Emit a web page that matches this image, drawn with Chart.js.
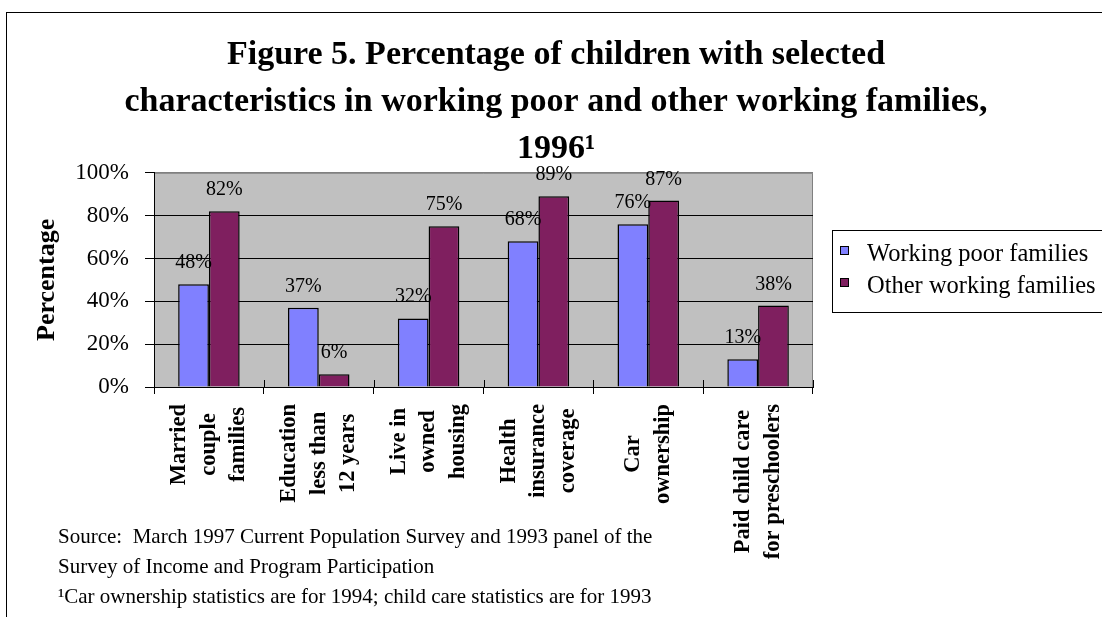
<!DOCTYPE html>
<html>
<head>
<meta charset="utf-8">
<title>Figure 5</title>
<script src="https://cdn.jsdelivr.net/npm/chart.js@4/dist/chart.umd.min.js"></script>
<style>
  html, body { margin: 0; padding: 0; background: #fff; }
  canvas { display: block; }
</style>
</head>
<body>
<canvas id="fig5" width="1102" height="617"></canvas>
<script>
// Chart data
const categories = [
    ['Married', 'couple', 'families'],
    ['Education', 'less than', '12 years'],
    ['Live in', 'owned', 'housing'],
    ['Health', 'insurance', 'coverage'],
    ['Car', 'ownership'],
    ['Paid child care', 'for preschoolers']
];
const seriesNames = ['Working poor families', 'Other working families'];
const workingPoor = [48, 37, 32, 68, 76, 13];
const otherWorking = [82, 6, 75, 89, 87, 38];
const yTicks = [0, 20, 40, 60, 80, 100];

const titleLines = [
    'Figure 5. Percentage of children with selected',
    'characteristics in working poor and other working families,',
    '1996\u00B9'
];
const sourceLines = [
    'Source:  March 1997 Current Population Survey and 1993 panel of the',
    'Survey of Income and Program Participation',
    '\u00B9Car ownership statistics are for 1994; child care statistics are for 1993'
];

const serif = '"Liberation Serif", "Times New Roman", Times, serif';
const blue = '#8080ff';
const plum = '#7f1f5f';

// Grey plot area plus the outer frame of the figure
const plotBackground = {
    id: 'plotBackground',
    beforeDraw(chart) {
        const { ctx, chartArea: a } = chart;
        ctx.save();
        ctx.fillStyle = '#c0c0c0';
        ctx.fillRect(a.left, a.top, a.width, a.height);
        ctx.strokeStyle = '#808080';
        ctx.lineWidth = 1;
        ctx.beginPath();
        ctx.moveTo(a.left, a.top + 0.5);
        ctx.lineTo(a.right - 0.5, a.top + 0.5);
        ctx.lineTo(a.right - 0.5, a.bottom);
        ctx.stroke();
        ctx.strokeStyle = '#000';
        ctx.strokeRect(6.5, 12.5, chart.width + 20, chart.height + 20);
        ctx.restore();
    }
};

// Percent labels above each bar
const barValueLabels = {
    id: 'barValueLabels',
    afterDatasetsDraw(chart) {
        const { ctx } = chart;
        ctx.save();
        ctx.font = '20px ' + serif;
        ctx.fillStyle = '#000';
        ctx.textAlign = 'center';
        ctx.textBaseline = 'alphabetic';
        chart.data.datasets.forEach((ds, i) => {
            chart.getDatasetMeta(i).data.forEach((bar, j) => {
                ctx.fillText(ds.data[j] + '%', bar.x, bar.y - 16);
            });
        });
        ctx.restore();
    }
};

// Rotated, multi-line category labels (centred like the original)
const categoryLabels = {
    id: 'categoryLabels',
    afterDraw(chart) {
        const { ctx, chartArea: a } = chart;
        const xs = chart.scales.x;
        ctx.save();
        // cross tick marks reaching into the plot
        const step = xs.width / categories.length;
        ctx.strokeStyle = '#000';
        ctx.lineWidth = 1;
        ctx.beginPath();
        for (let i = 0; i <= categories.length; i++) {
            const x = Math.round(xs.left + i * step) + 0.5;
            ctx.moveTo(x, a.bottom - 7);
            ctx.lineTo(x, a.bottom);
        }
        ctx.stroke();

        ctx.font = 'bold 22.5px ' + serif;
        ctx.fillStyle = '#000';
        ctx.textAlign = 'center';
        ctx.textBaseline = 'middle';
        categories.forEach((lines, i) => {
            const cx = xs.getPixelForValue(i);
            const longest = Math.max(...lines.map(t => ctx.measureText(t).width));
            const cy = a.bottom + 17 + longest / 2;
            lines.forEach((t, k) => {
                ctx.save();
                ctx.translate(cx + (k - (lines.length - 1) / 2) * 29.5, cy);
                ctx.rotate(-Math.PI / 2);
                ctx.fillText(t, 0, 0);
                ctx.restore();
            });
        });
        ctx.restore();
    }
};

// Boxed legend to the right of the plot, and the source notes
const boxedLegend = {
    id: 'boxedLegend',
    afterDraw(chart) {
        const { ctx, chartArea: a } = chart;
        const left = a.right + 19;
        const top = 230;
        ctx.save();
        ctx.strokeStyle = '#000';
        ctx.lineWidth = 1;
        ctx.strokeRect(left + 0.5, top + 0.5, 300, 82);
        ctx.font = '24.5px ' + serif;
        ctx.textBaseline = 'alphabetic';
        ctx.textAlign = 'left';
        chart.data.datasets.forEach((ds, i) => {
            const base = top + 31 + i * 32;
            ctx.fillStyle = ds.backgroundColor;
            ctx.fillRect(left + 8, base - 15, 9, 9);
            ctx.strokeRect(left + 8.5, base - 14.5, 8, 8);
            ctx.fillStyle = '#000';
            ctx.fillText(ds.label, left + 35, base);
        });

        ctx.font = '21px ' + serif;
        sourceLines.forEach((t, i) => {
            ctx.fillText(t, 58, chart.height - 74 + i * 30);
        });
        ctx.restore();
    }
};

new Chart(document.getElementById('fig5'), {
    type: 'bar',
    data: {
        labels: categories.map(l => l.join(' ')),
        datasets: [{
            label: seriesNames[0],
            data: workingPoor,
            backgroundColor: blue,
            borderColor: '#000',
            borderWidth: 1.5
        }, {
            label: seriesNames[1],
            data: otherWorking,
            backgroundColor: plum,
            borderColor: '#000',
            borderWidth: 1.5
        }]
    },
    options: {
        responsive: false,
        animation: false,
        devicePixelRatio: 1,
        layout: { padding: { top: 8, left: 10, right: 0, bottom: 0 } },
        datasets: {
            bar: { categoryPercentage: 0.56, barPercentage: 1 }
        },
        plugins: {
            legend: { display: false },
            tooltip: { enabled: false },
            title: {
                display: true,
                text: titleLines,
                color: '#000',
                font: { family: serif, size: 34, weight: 'bold', lineHeight: 1.38 },
                padding: { top: 24, bottom: 0 }
            }
        },
        scales: {
            x: {
                grid: {
                    offset: true,
                    drawOnChartArea: false,
                    tickLength: 7,
                    color: '#000'
                },
                border: { color: '#000', width: 1 },
                ticks: { display: false },
                afterFit: s => { s.height = 230; }
            },
            y: {
                min: 0,
                max: 100,
                afterBuildTicks: s => { s.ticks = yTicks.map(v => ({ value: v })); },
                grid: {
                    color: c => (c.tick && c.tick.value === 100 ? '#808080' : '#000'),
                    tickColor: '#000',
                    tickLength: 9
                },
                border: { color: '#000', width: 1 },
                ticks: {
                    padding: 16,
                    color: '#000',
                    font: { family: serif, size: 23 },
                    callback: v => v + '%'
                },
                title: {
                    display: true,
                    text: 'Percentage',
                    color: '#000',
                    font: { family: serif, size: 26, weight: 'bold' },
                    padding: { top: 22, bottom: 0 }
                },
                afterFit: s => { s.width = 144; }
            },
            yRight: {
                type: 'linear',
                position: 'right',
                display: true,
                grid: { display: false, drawTicks: false },
                border: { display: false },
                ticks: { display: false },
                afterFit: s => { s.width = 289; }
            }
        }
    },
    plugins: [plotBackground, barValueLabels, categoryLabels, boxedLegend]
});
</script>
</body>
</html>
